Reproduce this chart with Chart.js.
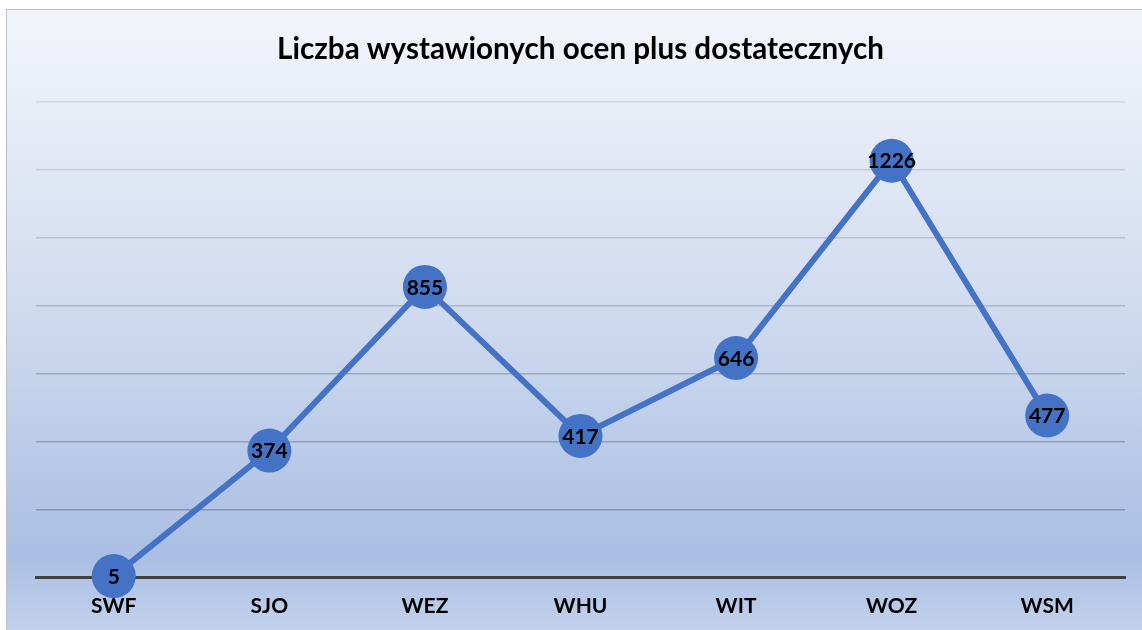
<!DOCTYPE html>
<html>
<head>
<meta charset="utf-8">
<script src="https://cdn.jsdelivr.net/npm/chart.js@4"></script>
<style>
  html, body { margin: 0; padding: 0; background: #fff; overflow: hidden; }
  #box { position: absolute; left: 6px; top: 9px; border-left: 1px solid #bfbfbf; border-top: 1px solid #bfbfbf; }
  canvas { display: block; }
</style>
</head>
<body>
<div id="box"><canvas id="grafico" width="1136" height="638"></canvas></div>
<script>
const categorias = ['SWF', 'SJO', 'WEZ', 'WHU', 'WIT', 'WOZ', 'WSM']
const valores = [5, 374, 855, 417, 646, 1226, 477]
const yMax = 1400
const yPasso = 200

// fundo em degrade, claro em cima e azulado embaixo
const fundo = {
  id: 'fundo',
  beforeDraw(chart) {
    const { ctx, width, height } = chart
    const g = ctx.createLinearGradient(0, 0, 0, 620)
    g.addColorStop(0, '#f3f5fb')
    g.addColorStop(0.45, '#d3ddf0')
    g.addColorStop(0.88, '#aabfe3')
    g.addColorStop(1, '#c2d1ec')
    ctx.save()
    ctx.fillStyle = g
    ctx.fillRect(0, 0, width, height)
    ctx.restore()
  }
}

// rotulos dos valores no centro de cada ponto
const rotulos = {
  id: 'rotulos',
  afterDatasetsDraw(chart) {
    const { ctx } = chart
    const meta = chart.getDatasetMeta(0)
    ctx.save()
    ctx.font = 'bold 21px Lato'
    ctx.fillStyle = '#000'
    ctx.textAlign = 'center'
    ctx.textBaseline = 'middle'
    meta.data.forEach((p, i) => {
      ctx.fillText(String(valores[i]), p.x, p.y + 1)
    })
    ctx.restore()
  }
}

function corGrade(v) {
  const t = v / yMax
  const top = [212, 216, 224], bot = [120, 134, 165]
  const c = top.map((a, k) => Math.round(bot[k] + (a - bot[k]) * t))
  return `rgb(${c[0]}, ${c[1]}, ${c[2]})`
}

new Chart(document.getElementById('grafico'), {
  type: 'line',
  data: {
    labels: categorias,
    datasets: [{
      data: valores,
      borderColor: '#4472c4',
      backgroundColor: '#4472c4',
      borderWidth: 6,
      pointRadius: 22,
      pointHoverRadius: 22,
      pointBorderWidth: 0,
      tension: 0,
      clip: false
    }]
  },
  options: {
    responsive: false,
    animation: false,
    layout: { autoPadding: false, padding: { left: 29, right: 18, bottom: 13 } },
    plugins: {
      legend: { display: false },
      tooltip: { enabled: false },
      title: {
        display: true,
        text: 'Liczba wystawionych ocen plus dostatecznych',
        color: '#000',
        font: { family: 'Lato', size: 29.6, weight: 'bold', lineHeight: 1.2 },
        padding: { top: 22, bottom: 34 }
      }
    },
    scales: {
      x: {
        offset: true,
        grid: { display: false, drawTicks: false },
        border: { display: true, color: '#404040', width: 3 },
        ticks: { color: '#000', padding: 16, font: { family: 'Lato', size: 21, weight: 'bold', lineHeight: 1.2 } }
      },
      y: {
        min: 0,
        max: yMax,
        ticks: { display: false, stepSize: yPasso },
        border: { display: false },
        grid: {
          drawTicks: false,
          lineWidth: 1.5,
          color: c => c.tick && c.tick.value === 0 ? 'rgba(0,0,0,0)' : corGrade(c.tick ? c.tick.value : 0)
        }
      }
    }
  },
  plugins: [fundo, rotulos]
})
</script>
</body>
</html>
